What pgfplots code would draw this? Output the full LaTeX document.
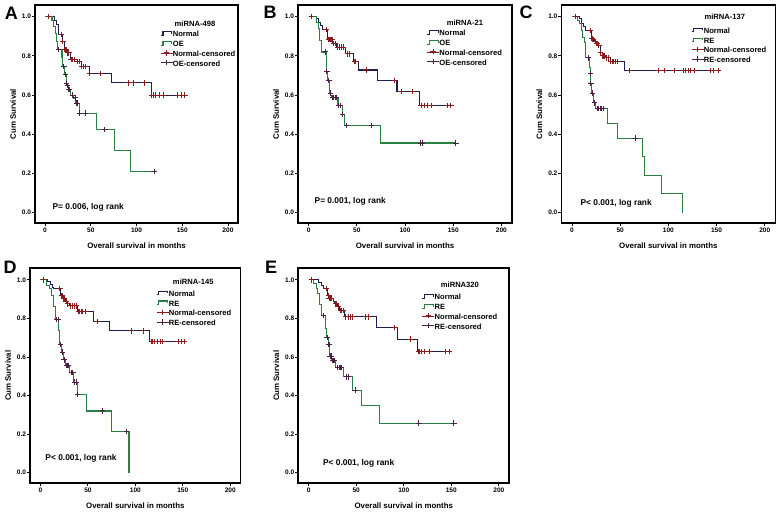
\documentclass[border=0pt]{standalone}
\usepackage{fontspec}
\setmainfont{Liberation Sans}
\usepackage{pgfplots}
\pgfplotsset{compat=1.18}
\definecolor{navyc}{HTML}{1E1E50}
\definecolor{greenc}{HTML}{2A8040}
\definecolor{redc}{HTML}{8B1A1A}
\definecolor{purc}{HTML}{4A1E45}
\tikzset{
 ptext/.style={anchor=west, font=\fontsize{6.3}{7}\selectfont\bfseries, inner sep=0pt},
 ttext/.style={anchor=center, font=\fontsize{5.7}{6}\selectfont\bfseries, inner sep=0pt},
 plett/.style={font=\fontsize{13.5}{14}\selectfont\bfseries, inner sep=0pt},
}
\pgfplotsset{
 kmaxis/.style={
  scale only axis, anchor=north west,
  xmin=-11,xmax=211,ymin=-0.055,ymax=1.06,
  xtick={0,50,100,150,200}, xticklabels={0,50,100,150,200},
  ytick={0,0.2,0.4,0.6,0.8,1.0}, yticklabels={0.0,0.2,0.4,0.6,0.8,1.0},
  tick align=outside, xtick pos=left, ytick pos=left,
  major tick length=2.2pt,
  tick style={black, line width=0.6pt},
  axis line style={line width=1.2pt},
  ticklabel style={font=\fontsize{4.9}{5}\selectfont\bfseries},
  yticklabel style={inner sep=0.6pt},
  xticklabel style={inner sep=1.2pt},
  xlabel={Overall survival in months}, ylabel={Cum Survival},
  every axis y label/.style={at={(axis description cs:0,0.5)},xshift=-16.5pt,rotate=90,anchor=center,
    inner sep=0pt, font=\fontsize{5.9}{6}\selectfont\bfseries},
  every axis x label/.style={at={(axis description cs:0.5,0)},yshift=-17pt,anchor=center,
    inner sep=0pt, font=\fontsize{5.9}{6}\selectfont\bfseries},
  legend style={draw=none, fill=none, inner sep=0pt, outer sep=0pt, anchor=north west,
    font=\fontsize{5.7}{6}\selectfont\bfseries, row sep=0pt,
    nodes={inner sep=0pt, text height=5.3pt, text depth=2pt}},
  legend cell align=left,
  clip=false,
 },
 kmnormal/.style={const plot, color=navyc, line width=0.8pt, mark=none,
   legend image code/.code={\draw[##1] (0pt,-0.5pt) -- (1.8pt,-0.5pt) -- (1.8pt,2.2pt) -- (8.5pt,2.2pt) -- (8.5pt,0.6pt);}},
 kmoe/.style={const plot, color=greenc, line width=0.8pt, mark=none,
   legend image code/.code={\draw[##1] (0pt,-0.5pt) -- (1.8pt,-0.5pt) -- (1.8pt,2.2pt) -- (8.5pt,2.2pt) -- (8.5pt,0.6pt);}},
 kmcens/.style={only marks, mark=+, mark size=2pt, mark options={line width=0.75pt},
   legend image code/.code={\draw[##1] (0pt,1pt) -- (9pt,1pt); \draw[##1] plot coordinates {(4.5pt,1pt)};}},
 kmnc/.style={kmcens, color=redc},
 kmoc/.style={kmcens, color=purc},
}
\begin{document}
\begin{tikzpicture}
\useasboundingbox (0,0) rectangle (583.5pt,-383.25pt);
% ---------------- A ----------------
\begin{axis}[kmaxis, at={(26.25pt,-3.75pt)}, width=152.25pt, height=163.7pt,
  legend style={at={(0.616,0.886)}}]
\addplot[kmnormal] coordinates {(0,1) (10.2,0.983) (12.7,0.96) (14.9,0.911) (19.3,0.874) (21.1,0.832) (24,0.815) (27.6,0.78) (35,0.77) (39.5,0.745) (48.4,0.709) (73.1,0.662) (116.4,0.60) (154,0.60)};
\addlegendentry{Normal}
\addplot[kmoe] coordinates {(0,1) (7.6,0.98) (9,0.95) (11,0.915) (13,0.875) (14,0.832) (18.5,0.79) (19.5,0.747) (21.5,0.704) (23,0.66) (24,0.65) (25.5,0.63) (28,0.60) (31,0.585) (33,0.559) (37.5,0.508) (56.4,0.424) (75.6,0.318) (93.8,0.211) (119.2,0.211)};
\addlegendentry{OE}
\addplot[kmnc] coordinates {(4,1.0) (17.6,0.911) (19.5,0.874) (21.5,0.832) (22.5,0.832) (23.5,0.832) (25,0.815) (26,0.815) (28.5,0.78) (30.5,0.78) (32.5,0.78) (35.5,0.77) (38,0.77) (40,0.745) (42,0.745) (44,0.745) (48.4,0.709) (61,0.709) (91,0.662) (96.4,0.662) (109,0.662) (116.4,0.60) (118.5,0.60) (121,0.60) (125,0.60) (129,0.60) (145,0.60) (149,0.60) (153,0.60)};
\addlegendentry{Normal-censored}
\addplot[kmoc] coordinates {(14.9,0.832) (20.6,0.747) (22,0.704) (23.5,0.66) (24.5,0.65) (25.5,0.63) (26.5,0.63) (30,0.60) (32.8,0.585) (34.5,0.559) (35.3,0.559) (37.5,0.508) (44,0.508) (65.5,0.424) (119.2,0.211)};
\addlegendentry{OE-censored}
\node[ttext] at (axis description cs:0.788,0.916) {miRNA-498};
\node[ptext] at (axis cs:8,0.025) {P= 0.006, log rank};
\end{axis}
% ---------------- B ----------------
\begin{axis}[kmaxis, at={(223.5pt,-3.75pt)}, width=160.5pt, height=163.7pt,
  legend style={at={(0.601,0.891)}}]
\addplot[kmnormal] coordinates {(0,1) (7.9,0.99) (10.7,0.97) (12.4,0.955) (14.8,0.935) (20,0.885) (25,0.865) (29,0.845) (38.5,0.81) (47,0.771) (52,0.728) (71,0.674) (91.7,0.617) (114.8,0.548) (149,0.548)};
\addlegendentry{Normal}
\addplot[kmoe] coordinates {(0,1) (8,0.97) (10.5,0.94) (11.5,0.88) (13.5,0.82) (18.5,0.72) (20,0.676) (22,0.61) (23,0.596) (24,0.588) (30.5,0.545) (35,0.50) (37,0.445) (74.5,0.355) (152.8,0.355)};
\addlegendentry{OE}
\addplot[kmnc] coordinates {(2.8,1.0) (18.3,0.935) (20.5,0.885) (21.5,0.885) (22.5,0.885) (23.5,0.885) (24.5,0.885) (26,0.865) (27.5,0.865) (30,0.845) (32,0.845) (34,0.845) (36,0.845) (40.5,0.81) (42.5,0.81) (47.6,0.771) (49,0.771) (59.7,0.728) (89,0.674) (95.9,0.617) (107.9,0.617) (116.6,0.548) (120,0.548) (123.4,0.548) (127.6,0.548) (144.1,0.548) (147.6,0.548)};
\addlegendentry{Normal-censored}
\addplot[kmoc] coordinates {(17.2,0.82) (19,0.72) (20.5,0.676) (21,0.676) (22.5,0.61) (24.5,0.588) (26,0.588) (27.5,0.588) (29,0.588) (31,0.545) (33,0.545) (35.5,0.50) (39.6,0.445) (65,0.445) (116.5,0.355) (118,0.355) (152.8,0.355)};
\addlegendentry{OE-censored}
\node[ttext] at (axis description cs:0.780,0.919) {miRNA-21};
\node[ptext] at (axis cs:6,0.055) {P= 0.001, log rank};
\end{axis}
% ---------------- C ----------------
\begin{axis}[kmaxis, at={(421pt,-3.75pt)}, width=160.5pt, height=163.7pt,
  legend style={at={(0.606,0.902)}}]
\addplot[kmnormal] coordinates {(0,1) (7.9,0.99) (10.3,0.965) (12,0.95) (13.8,0.93) (20,0.89) (23.5,0.875) (25,0.865) (27,0.855) (29.3,0.815) (31.7,0.80) (35,0.79) (39.7,0.771) (55,0.724) (152,0.724)};
\addlegendentry{Normal}
\addplot[kmoe] coordinates {(0,1) (6.2,0.98) (7.9,0.965) (9.7,0.93) (11.4,0.895) (13,0.87) (14.5,0.79) (18,0.74) (18.8,0.71) (19.5,0.66) (20.5,0.61) (22.8,0.56) (24.8,0.53) (37.2,0.455) (47.6,0.38) (73,0.285) (75,0.19) (93,0.095) (114.8,0.0)};
\addlegendentry{RE}
\addplot[kmnc] coordinates {(3.4,1.0) (19,0.93) (20.5,0.89) (21.5,0.89) (22.5,0.885) (24,0.875) (25.5,0.865) (26.5,0.865) (28,0.855) (29.3,0.815) (32,0.80) (33,0.80) (34,0.80) (36,0.79) (37.5,0.79) (40.5,0.771) (42,0.771) (43.5,0.771) (45,0.771) (47,0.771) (60,0.724) (89.7,0.724) (95.5,0.724) (106,0.724) (116,0.724) (118,0.724) (120.7,0.724) (123,0.724) (127.6,0.724) (144,0.724) (147,0.724) (151.7,0.724)};
\addlegendentry{Normal-censored}
\addplot[kmoc] coordinates {(16.9,0.79) (19.3,0.71) (19.6,0.66) (21,0.61) (23.4,0.56) (26.2,0.53) (27.9,0.53) (29.7,0.53) (31,0.53) (32.8,0.53) (65.5,0.38)};
\addlegendentry{RE-censored}
\node[ttext] at (axis description cs:0.764,0.944) {miRNA-137};
\node[ptext] at (axis cs:8.7,0.047) {P< 0.001, log rank};
\end{axis}
% ---------------- D ----------------
\begin{axis}[kmaxis, at={(22.5pt,-201.2pt)}, width=158pt, height=161.25pt,
  legend style={at={(0.598,0.902)}}]
\addplot[kmnormal] coordinates {(0,1) (7.9,0.99) (10.3,0.975) (12.6,0.96) (14,0.955) (21.5,0.92) (24,0.905) (26,0.89) (28,0.875) (30.8,0.865) (39.3,0.835) (56.4,0.785) (72.8,0.735) (115,0.68) (153,0.68)};
\addlegendentry{Normal}
\addplot[kmoe] coordinates {(0,1) (6.8,0.97) (9.6,0.955) (12,0.92) (13.7,0.86) (15.4,0.795) (19.5,0.735) (20.5,0.665) (22.2,0.625) (24.6,0.585) (26.5,0.555) (30.8,0.52) (34.9,0.47) (38.6,0.405) (48.5,0.32) (75.2,0.215) (93.3,0.0)};
\addlegendentry{RE}
\addplot[kmnc] coordinates {(3.4,1.0) (20.5,0.955) (22,0.92) (23,0.92) (24.5,0.905) (25.5,0.905) (27,0.89) (29,0.875) (32,0.865) (34,0.865) (36,0.865) (37.5,0.865) (40,0.835) (41.5,0.835) (43,0.835) (44.5,0.835) (48,0.835) (60,0.785) (95.7,0.735) (108.4,0.735) (117,0.68) (118,0.68) (120,0.68) (123,0.68) (126.5,0.68) (129,0.68) (145,0.68) (148.7,0.68) (152,0.68)};
\addlegendentry{Normal-censored}
\addplot[kmoc] coordinates {(17,0.795) (18.8,0.795) (21.2,0.665) (23.2,0.625) (25,0.585) (27.4,0.555) (29,0.555) (29.7,0.555) (32.5,0.52) (34.2,0.52) (36.2,0.47) (37.6,0.47) (39.3,0.405) (65.6,0.32) (90.6,0.215)};
\addlegendentry{RE-censored}
\node[ttext] at (axis description cs:0.775,0.938) {miRNA-145};
\node[ptext] at (axis cs:5,0.074) {P< 0.001, log rank};
\end{axis}
% ---------------- E ----------------
\begin{axis}[kmaxis, at={(223.7pt,-201.2pt)}, width=158.25pt, height=161.25pt,
  legend style={at={(0.586,0.886)}}]
\addplot[kmnormal] coordinates {(0,1) (10.3,0.985) (13.1,0.97) (15.5,0.955) (20,0.92) (22,0.905) (25.9,0.89) (27,0.875) (30,0.86) (32,0.84) (37.2,0.808) (71.7,0.753) (93.4,0.693) (114,0.628) (149,0.628)};
\addlegendentry{Normal}
\addplot[kmoe] coordinates {(0,1) (5.5,0.98) (7.9,0.955) (9.7,0.927) (11.4,0.87) (13.1,0.815) (17.2,0.748) (18.3,0.70) (20.7,0.663) (22,0.605) (24,0.58) (28,0.545) (36.2,0.497) (45.9,0.428) (55.5,0.346) (74.5,0.257) (152.8,0.257)};
\addlegendentry{RE}
\addplot[kmnc] coordinates {(2.8,1.0) (18.3,0.955) (20.5,0.92) (21.5,0.905) (22.5,0.905) (23.5,0.905) (28,0.875) (29,0.875) (31,0.86) (33.5,0.84) (35,0.84) (36.5,0.84) (39,0.808) (41.7,0.808) (44,0.808) (46,0.808) (59.6,0.808) (63,0.808) (90.7,0.753) (107,0.693) (115.5,0.628) (117,0.628) (119,0.628) (121.7,0.628) (127,0.628) (144,0.628) (147.6,0.628)};
\addlegendentry{Normal-censored}
\addplot[kmoc] coordinates {(15.5,0.815) (19.4,0.70) (20.7,0.663) (21.5,0.663) (22.5,0.605) (23.5,0.605) (25,0.58) (26,0.58) (27,0.58) (30.3,0.545) (32.8,0.545) (33.8,0.545) (34.5,0.545) (39.7,0.497) (41.7,0.497) (48.8,0.428) (115.9,0.257) (152.8,0.257)};
\addlegendentry{RE-censored}
\node[ttext] at (axis description cs:0.766,0.923) {miRNA320};
\node[ptext] at (axis cs:14.8,0.05) {P< 0.001, log rank};
\end{axis}
% panel letters
\node[plett] at (8.6pt,-9.75pt) {A};
\node[plett] at (202.5pt,-9pt) {B};
\node[plett] at (394.5pt,-9pt) {C};
\node[plett] at (7.5pt,-200.25pt) {D};
\node[plett] at (203.25pt,-200.25pt) {E};
\end{tikzpicture}
\end{document}
